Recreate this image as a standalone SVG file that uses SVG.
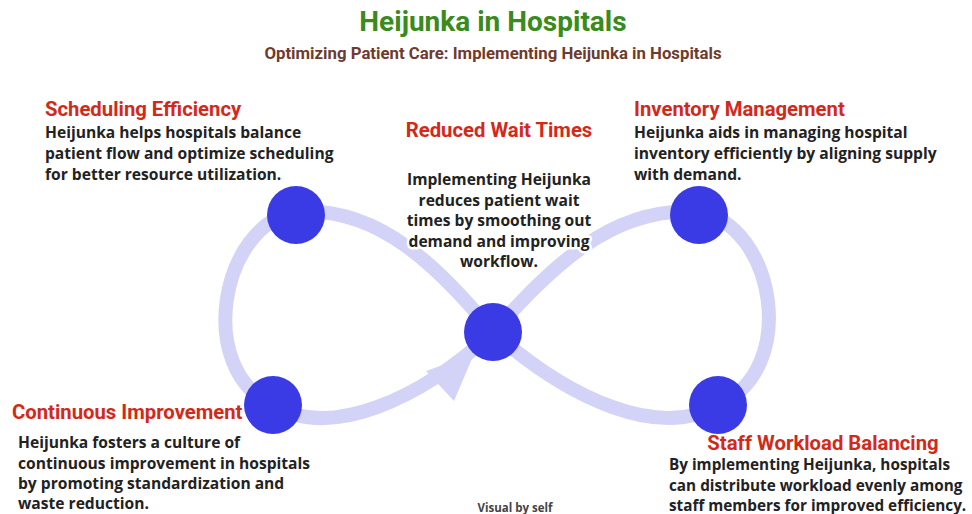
<svg xmlns="http://www.w3.org/2000/svg" width="972" height="514" viewBox="0 0 972 514">
  <style>
    .title { font-family: Roboto, "Liberation Sans", sans-serif; font-weight: 700; font-size: 28px; fill: #3a8a1c; }
    .subtitle { font-family: Roboto, "Liberation Sans", sans-serif; font-weight: 700; font-size: 16.8px; fill: #6e3b2e; }
    .head { font-family: Roboto, "Liberation Sans", sans-serif; font-weight: 700; font-size: 20.3px; fill: #d3291a; }
    .body { font-family: "Open Sans", "Noto Sans", "Liberation Sans", sans-serif; font-weight: 700; font-size: 15.6px; fill: #222222; }
    .tight { font-size: 15.3px; }
    .halo { paint-order: stroke; stroke: #ffffff; stroke-width: 5px; stroke-linejoin: round; }
    .loop { fill: none; stroke: #d3d3f8; stroke-width: 14; stroke-linecap: round; }
    .arrow { fill: #d3d3f8; }
    .dot { fill: #3b3be6; }
    .credit { font-family: "Open Sans", "Noto Sans", "Liberation Sans", sans-serif; font-weight: 700; font-size: 11.5px; fill: #444444; }
  </style>

  <rect width="972" height="514" fill="#ffffff"/>

  <text class="title" x="493" y="31" text-anchor="middle">Heijunka in Hospitals</text>
  <text class="subtitle" x="493" y="59" text-anchor="middle">Optimizing Patient Care: Implementing Heijunka in Hospitals</text>

  <!-- figure-eight loop -->
  <g id="connectors">
    <path class="loop" d="M 493 332 C 440 270, 380 205, 296 212 C 220 225, 195 370, 273 405 C 330 440, 420 400, 493 332"/>
    <path class="loop" d="M 493 332 C 550 270, 610 205, 699 212 C 775 225, 800 370, 718 405 C 660 440, 570 400, 493 332"/>
    <polygon class="arrow" points="474,354 426,371 454,401"/>
  </g>

  <g id="node-scheduling">
    <circle class="dot" cx="296" cy="215" r="29"/>
    <text class="head" x="45" y="116">Scheduling Efficiency</text>
    <text class="body" x="45" y="138">Heijunka helps hospitals balance</text>
    <text class="body" x="45" y="159">patient flow and optimize scheduling</text>
    <text class="body" x="45" y="180">for better resource utilization.</text>
  </g>

  <g id="node-wait-times">
    <circle class="dot" cx="493" cy="332" r="29"/>
    <text class="head" x="499" y="137" text-anchor="middle">Reduced Wait Times</text>
    <text class="body halo" x="499" y="185" text-anchor="middle">Implementing Heijunka</text>
    <text class="body halo" x="499" y="206" text-anchor="middle">reduces patient wait</text>
    <text class="body halo" x="499" y="226" text-anchor="middle">times by smoothing out</text>
    <text class="body halo" x="499" y="247" text-anchor="middle">demand and improving</text>
    <text class="body halo" x="499" y="267" text-anchor="middle">workflow.</text>
  </g>

  <g id="node-inventory">
    <circle class="dot" cx="699" cy="215" r="29"/>
    <text class="head" x="634" y="116">Inventory Management</text>
    <text class="body" x="634" y="138">Heijunka aids in managing hospital</text>
    <text class="body" x="634" y="159">inventory efficiently by aligning supply</text>
    <text class="body" x="634" y="180">with demand.</text>
  </g>

  <g id="node-improvement">
    <circle class="dot" cx="273" cy="405" r="29"/>
    <text class="head" x="12" y="419">Continuous Improvement</text>
    <text class="body" x="18" y="448">Heijunka fosters a culture of</text>
    <text class="body" x="18" y="469">continuous improvement in hospitals</text>
    <text class="body" x="18" y="489">by promoting standardization and</text>
    <text class="body" x="18" y="509">waste reduction.</text>
  </g>

  <g id="node-workload">
    <circle class="dot" cx="718" cy="405" r="29"/>
    <text class="head" x="823" y="450" text-anchor="middle">Staff Workload Balancing</text>
    <text class="body tight" x="669" y="470">By implementing Heijunka, hospitals</text>
    <text class="body tight" x="669" y="491">can distribute workload evenly among</text>
    <text class="body tight" x="669" y="511">staff members for improved efficiency.</text>
  </g>

  <text class="credit" x="515" y="512" text-anchor="middle">Visual by self</text>
</svg>
